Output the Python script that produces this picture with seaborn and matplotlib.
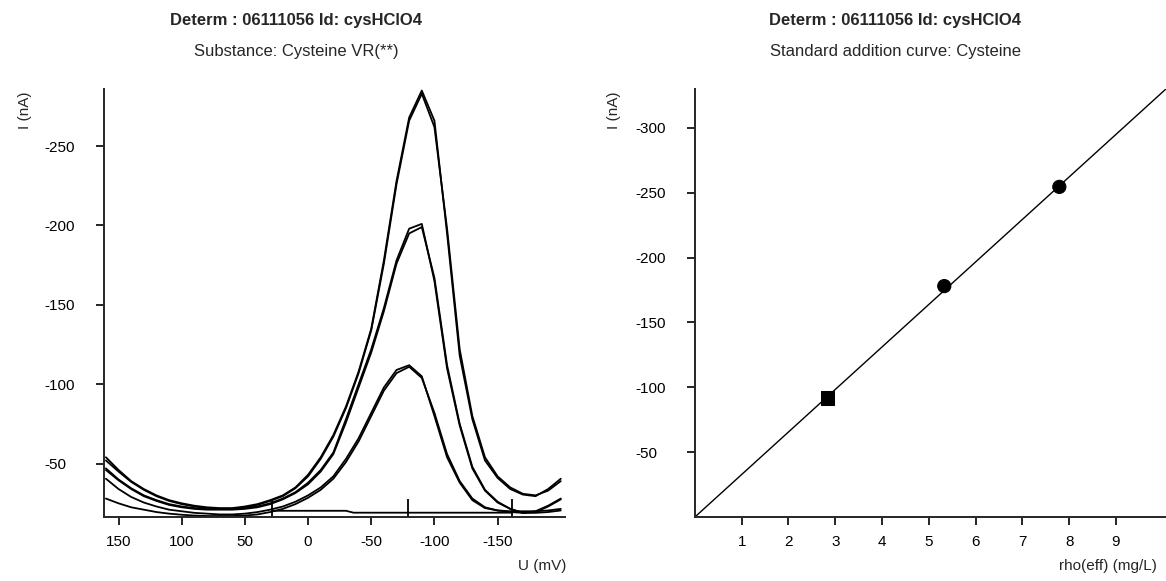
import matplotlib
matplotlib.use("Agg")
import matplotlib.pyplot as plt
import pandas as pd
import seaborn as sns

# voltammograms, one reading every 10 mV (values in nA)
potential_mv = [160, 150, 140, 130, 120, 110, 100, 90, 80, 70, 60, 50, 40, 30, 20, 10, 0,
                -10, -20, -30, -40, -50, -60, -70, -80, -90, -100, -110, -120, -130, -140,
                -150, -160, -170, -180, -190, -200]
sample_1 = [-40.5, -34, -29, -25.5, -23, -21, -20, -19, -18.5, -18, -18, -18.5, -19.5, -21, -23, -26, -30,
            -35, -42, -53, -66, -82, -98, -109, -112, -105, -80, -54, -38, -27, -22,
            -20.5, -20, -20, -20, -20.5, -21.5]
sample_2 = [-28, -25, -22.5, -21, -19.5, -18.5, -17.8, -17.3, -17, -17, -17, -17.3, -18, -19.5, -21.5, -24.5, -28.5,
            -33.5, -40.5, -51, -64, -80, -96, -107, -111, -104, -82, -56, -39, -28, -22.5,
            -20.5, -19.5, -19, -19, -19.5, -20.5]
add1_1 = [-47, -40, -34.5, -30, -27, -24.5, -23, -22, -21.5, -21.5, -21.5, -22, -23, -25, -28, -32, -38,
          -46, -57, -78, -100, -122, -148, -178, -198, -201, -165, -110, -74, -47, -33,
          -25.5, -21.5, -19, -20, -23.5, -28]
add1_2 = [-46, -39.5, -34, -29.5, -26.5, -24, -22.5, -21.5, -21, -21, -21, -21.5, -22.5, -24.5, -27.5, -31.5, -37,
          -45, -56, -76, -98, -120, -146, -176, -195, -199, -167, -112, -75, -48, -33.5,
          -26, -21.5, -19, -19.5, -23, -27.5]
add2_1 = [-54, -46, -39, -34, -30, -27, -25, -23.5, -22.5, -22, -22, -23, -24.5, -27, -30, -35, -43,
          -54, -68, -86, -108, -135, -178, -228, -268, -285, -266, -195, -118, -78, -52,
          -41, -34, -30.5, -29.5, -34, -40.5]
add2_2 = [-52, -45, -38.5, -33.5, -29.5, -26.5, -24.5, -23, -22, -21.5, -21.5, -22.5, -24, -26.5, -29.5, -34.5, -42,
          -53, -67, -85, -107, -134, -176, -226, -266, -283, -262, -198, -122, -80, -54,
          -42, -35, -31, -30, -33, -39]

# peak baseline and evaluation markers
baseline_mv = [28.5, -30, -36, -161]
baseline_na = [-20.3, -20.3, -19.1, -19.1]
marker_mv = [28.5, -79, -161]

# standard addition
conc = [2.83, 5.33, 7.79]
peak_current = [-91.7, -178, -254.5]
point_kind = ["sample", "addition", "addition"]
fit_conc = [0.0, 10.1]
fit_current = [0.0, -331]

title = "Determ : 06111056 Id: cysHClO4"

sns.set_theme(style="ticks")
plt.rcParams["font.family"] = ["Liberation Sans", "DejaVu Sans"]
plt.rcParams["axes.linewidth"] = 1.4
plt.rcParams["axes.unicode_minus"] = False  # plain hyphen like the instrument printout

curves = {"s1": sample_1, "s2": sample_2, "a1": add1_1, "a2": add1_2, "b1": add2_1, "b2": add2_2}
volt = pd.DataFrame([(k, u, i) for k, vals in curves.items() for u, i in zip(potential_mv, vals)],
                    columns=["curve", "U", "I"])
std = pd.DataFrame({"conc": conc, "I": peak_current, "kind": point_kind})

fig = plt.figure(figsize=(11.66, 5.81), dpi=100)
ax1 = fig.add_axes([0.0892, 0.1102, 0.395, 0.7367])
ax2 = fig.add_axes([0.596, 0.1102, 0.404, 0.7367])

sns.lineplot(data=volt, x="U", y="I", units="curve", estimator=None, sort=False,
             color="black", lw=1.3, ax=ax1)
sns.lineplot(x=baseline_mv, y=baseline_na, color="black", lw=1.3, sort=False, ax=ax1)
ax1.vlines(marker_mv, -16.5, -27.5, color="black", lw=1.3)
ax1.set_xlim(161.5, -203)
ax1.set_ylim(-16.4, -286)
ax1.set_xticks([150, 100, 50, 0, -50, -100, -150])
ax1.set_yticks([-250, -200, -150, -100, -50])

sns.lineplot(x=fit_conc, y=fit_current, color="black", lw=1.0, ax=ax2)
sns.scatterplot(data=std, x="conc", y="I", style="kind", markers={"sample": "s", "addition": "o"},
                color="black", s=90, edgecolor="black", legend=False, ax=ax2, zorder=3)
ax2.set_xlim(0, 10.07)
ax2.set_ylim(0, -330)
ax2.set_xticks(range(1, 10))
ax2.set_yticks([-300, -250, -200, -150, -100, -50])

for ax, xl, xl_x in [(ax1, "U (mV)", 1.003), (ax2, "rho(eff) (mg/L)", 0.981)]:
    sns.despine(ax=ax)
    ax.tick_params(axis="both", direction="out", length=6, width=1.2, colors="black", labelsize=11)
    ax.tick_params(axis="y", pad=37)
    ax.tick_params(axis="x", pad=7)
    plt.setp(ax.get_yticklabels(), ha="left")
    ax.set_xlabel(xl, loc="right", fontsize=11)
    ax.xaxis.set_label_coords(xl_x, -0.098)
    ax.set_ylabel("I (nA)", fontsize=11)
    ax.yaxis.set_label_coords(-0.157, 0.951)
    ax.grid(False)

fig.text(0.254, 0.964, title, ha="center", va="center", fontsize=12, fontweight="bold")
fig.text(0.254, 0.911, "Substance: Cysteine VR(**)", ha="center", va="center", fontsize=12)
fig.text(0.768, 0.964, title, ha="center", va="center", fontsize=12, fontweight="bold")
fig.text(0.768, 0.911, "Standard addition curve: Cysteine", ha="center", va="center", fontsize=12)

fig.savefig("out.png", dpi=100, facecolor="white")
